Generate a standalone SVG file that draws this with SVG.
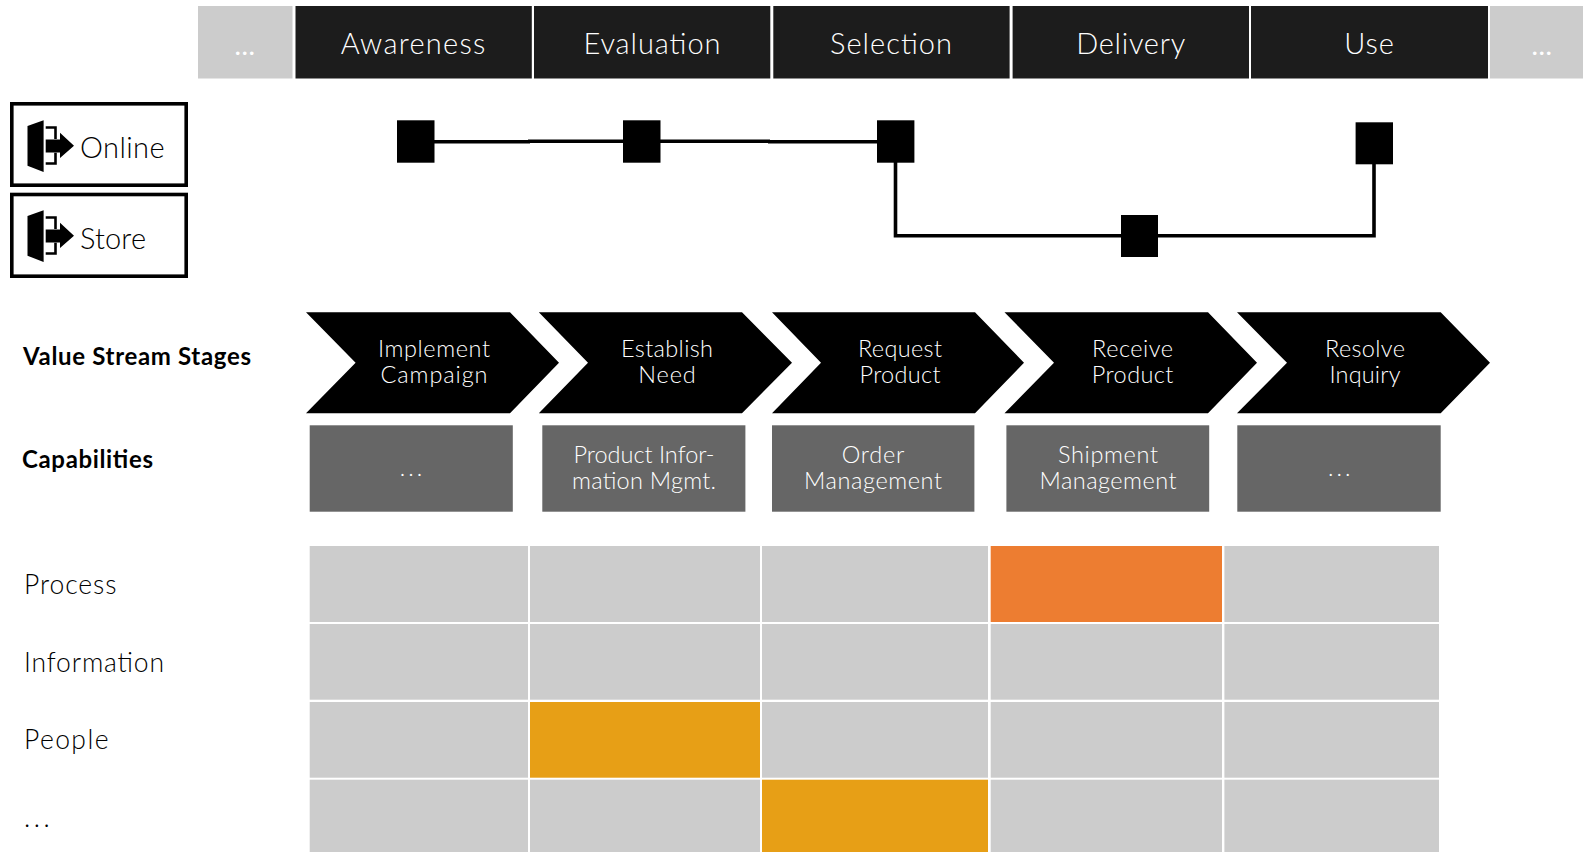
<svg xmlns="http://www.w3.org/2000/svg" width="1583" height="852" viewBox="0 0 1583 852">
<style>
text{font-family:Lato,"Noto Sans",sans-serif;font-weight:300}
.m{text-anchor:middle}
.h{font-size:29px;fill:#fff}
.hd{fill:#1c1c1c}
.g{fill:#ccc}
.c{fill:#666}
.o{fill:#ed7d31}
.y{fill:#e79f16}
.dot{font-size:23px;fill:#fff;font-weight:700;letter-spacing:1.500px}
.s{font-size:23.500px;fill:#fff}
.sd{letter-spacing:3px}
.l{font-size:26.500px;fill:#000}
.ld{letter-spacing:3.500px}
.t{font-size:29px;fill:#000}
.b{font-size:24px;font-weight:700;fill:#000}
.ch{fill:#fff;stroke:#000;stroke-width:3.6}
.sq{fill:#000}
.cn{fill:none;stroke:#000;stroke-width:3.6}
</style>
<defs>
<g id="exit">
<path d="M27.500 126L43.600 120.300V172L27.500 165.700Z" fill="#000"/>
<path d="M45.700 127.500H55.500V139M55.500 152.700V163.500H45.700" fill="none" stroke="#000" stroke-width="2.600"/>
<path d="M45.700 139.500H60V132.700L74 145.800L60 158V152.500H45.700Z" fill="#000"/>
</g>
</defs>
<g id="connectors">
<path class="cn" d="M430 141.800H530"/>
<path class="cn" d="M528 141.200H770"/>
<path class="cn" d="M768 141.800H880"/>
<path class="cn" d="M895.500 160V235.700H1374V162"/>
</g>
<g id="head-prev"><rect class="g" x="198" y="6" width="94.500" height="72.500"/><text class="m dot" x="245.500" y="55">...</text></g>
<g id="head-awareness"><rect class="hd" x="295.500" y="6" width="236.300" height="72.500"/><text class="m h" x="413" y="53.500" textLength="144.700">Awareness</text></g>
<g id="head-evaluation"><rect class="hd" x="534" y="6" width="236.300" height="72.500"/><text class="m h" x="652" y="53.500" textLength="137">Evaluation</text></g>
<g id="head-selection"><rect class="hd" x="773.300" y="6" width="236.300" height="72.500"/><text class="m h" x="891" y="53.500" textLength="122">Selection</text></g>
<g id="head-delivery"><rect class="hd" x="1012.600" y="6" width="236.400" height="72.500"/><text class="m h" x="1130.700" y="53.500" textLength="109">Delivery</text></g>
<g id="head-use"><rect class="hd" x="1251" y="6" width="237" height="72.500"/><text class="m h" x="1369" y="53.500" textLength="49.500">Use</text></g>
<g id="head-next"><rect class="g" x="1490" y="6" width="93" height="72.500"/><text class="m dot" x="1542.500" y="55">...</text></g>
<g id="channel-online"><rect class="ch" x="11.800" y="103.800" width="174.400" height="81.400"/><use href="#exit"/><text class="t" x="80" y="157.700" textLength="84.600">Online</text></g>
<g id="channel-store"><rect class="ch" x="11.800" y="194.500" width="174.400" height="81.700"/><use href="#exit" y="90"/><text class="t" x="80" y="249" textLength="66">Store</text></g>
<g id="touch-1"><rect class="sq" x="397" y="120.300" width="37.500" height="42.400"/></g>
<g id="touch-2"><rect class="sq" x="623" y="120.300" width="37.500" height="42.400"/></g>
<g id="touch-3"><rect class="sq" x="877" y="120.300" width="37.400" height="42.400"/></g>
<g id="touch-4"><rect class="sq" x="1121" y="215" width="37" height="42"/></g>
<g id="touch-5"><rect class="sq" x="1355.600" y="122.300" width="37.400" height="42"/></g>
<g id="label-stages"><text class="b" x="23" y="365.300" textLength="228">Value Stream Stages</text></g>
<g id="label-capabilities"><text class="b" x="22" y="467.700" textLength="131">Capabilities</text></g>
<g id="stage-1"><path d="M306 312.300H510L559 362.800L510 413.300H306L355.600 362.800Z"/><text class="m s" x="434" y="357.300" textLength="112">Implement</text><text class="m s" x="434" y="382.700" textLength="107">Campaign</text></g>
<g id="stage-2"><path d="M538.800 312.300H742L792 362.800L742 413.300H538.800L588 362.800Z"/><text class="m s" x="667" y="357.300" textLength="92">Establish</text><text class="m s" x="667" y="382.700" textLength="57.500">Need</text></g>
<g id="stage-3"><path d="M772 312.300H975L1024 362.800L975 413.300H772L821 362.800Z"/><text class="m s" x="900" y="357.300" textLength="84">Request</text><text class="m s" x="900" y="382.700" textLength="81">Product</text></g>
<g id="stage-4"><path d="M1004.500 312.300H1208L1257 362.800L1208 413.300H1004.500L1054 362.800Z"/><text class="m s" x="1132.600" y="357.300" textLength="81">Receive</text><text class="m s" x="1132.600" y="382.700" textLength="81.500">Product</text></g>
<g id="stage-5"><path d="M1237 312.300H1440.700L1490 362.800L1440.700 413.300H1237L1287 362.800Z"/><text class="m s" x="1365" y="357.300" textLength="80">Resolve</text><text class="m s" x="1365" y="382.700" textLength="71">Inquiry</text></g>
<g id="cap-1"><rect class="c" x="309.700" y="425.300" width="203.100" height="86.400"/><text class="m s sd" x="412.500" y="475.700">...</text></g>
<g id="cap-2"><rect class="c" x="542.300" y="425.300" width="203.100" height="86.400"/><text class="m s" x="644" y="463.300" textLength="141">Product Infor-</text><text class="m s" x="644" y="488.500" textLength="144">mation Mgmt.</text></g>
<g id="cap-3"><rect class="c" x="772" y="425.300" width="202.400" height="86.400"/><text class="m s" x="873" y="463.300" textLength="62.500">Order</text><text class="m s" x="873" y="488.500" textLength="138">Management</text></g>
<g id="cap-4"><rect class="c" x="1006.400" y="425.300" width="202.800" height="86.400"/><text class="m s" x="1108" y="463.300" textLength="100">Shipment</text><text class="m s" x="1108" y="488.500" textLength="137">Management</text></g>
<g id="cap-5"><rect class="c" x="1237.300" y="425.300" width="203.400" height="86.400"/><text class="m s sd" x="1340.800" y="475.700">...</text></g>
<g id="row-labels">
<text class="l" x="24" y="594.300" textLength="92.500">Process</text>
<text class="l" x="24" y="671.700" textLength="140">Information</text>
<text class="l" x="24" y="749.300" textLength="84.500">People</text>
<text class="l ld" x="24" y="826.700">...</text>
</g>
<g id="grid">
<rect class="g" x="309.700" y="546" width="218.300" height="76"/><rect class="g" x="530" y="546" width="230" height="76"/><rect class="g" x="762" y="546" width="226" height="76"/><rect class="o" x="990.700" y="546" width="231.300" height="76"/><rect class="g" x="1224.400" y="546" width="214.600" height="76"/>
<rect class="g" x="309.700" y="624" width="218.300" height="75.700"/><rect class="g" x="530" y="624" width="230" height="75.700"/><rect class="g" x="762" y="624" width="226" height="75.700"/><rect class="g" x="990.700" y="624" width="231.300" height="75.700"/><rect class="g" x="1224.400" y="624" width="214.600" height="75.700"/>
<rect class="g" x="309.700" y="702" width="218.300" height="75.700"/><rect class="y" x="530" y="702" width="230" height="75.700"/><rect class="g" x="762" y="702" width="226" height="75.700"/><rect class="g" x="990.700" y="702" width="231.300" height="75.700"/><rect class="g" x="1224.400" y="702" width="214.600" height="75.700"/>
<rect class="g" x="309.700" y="779.700" width="218.300" height="72.300"/><rect class="g" x="530" y="779.700" width="230" height="72.300"/><rect class="y" x="762" y="779.700" width="226" height="72.300"/><rect class="g" x="990.700" y="779.700" width="231.300" height="72.300"/><rect class="g" x="1224.400" y="779.700" width="214.600" height="72.300"/>
</g>
</svg>
